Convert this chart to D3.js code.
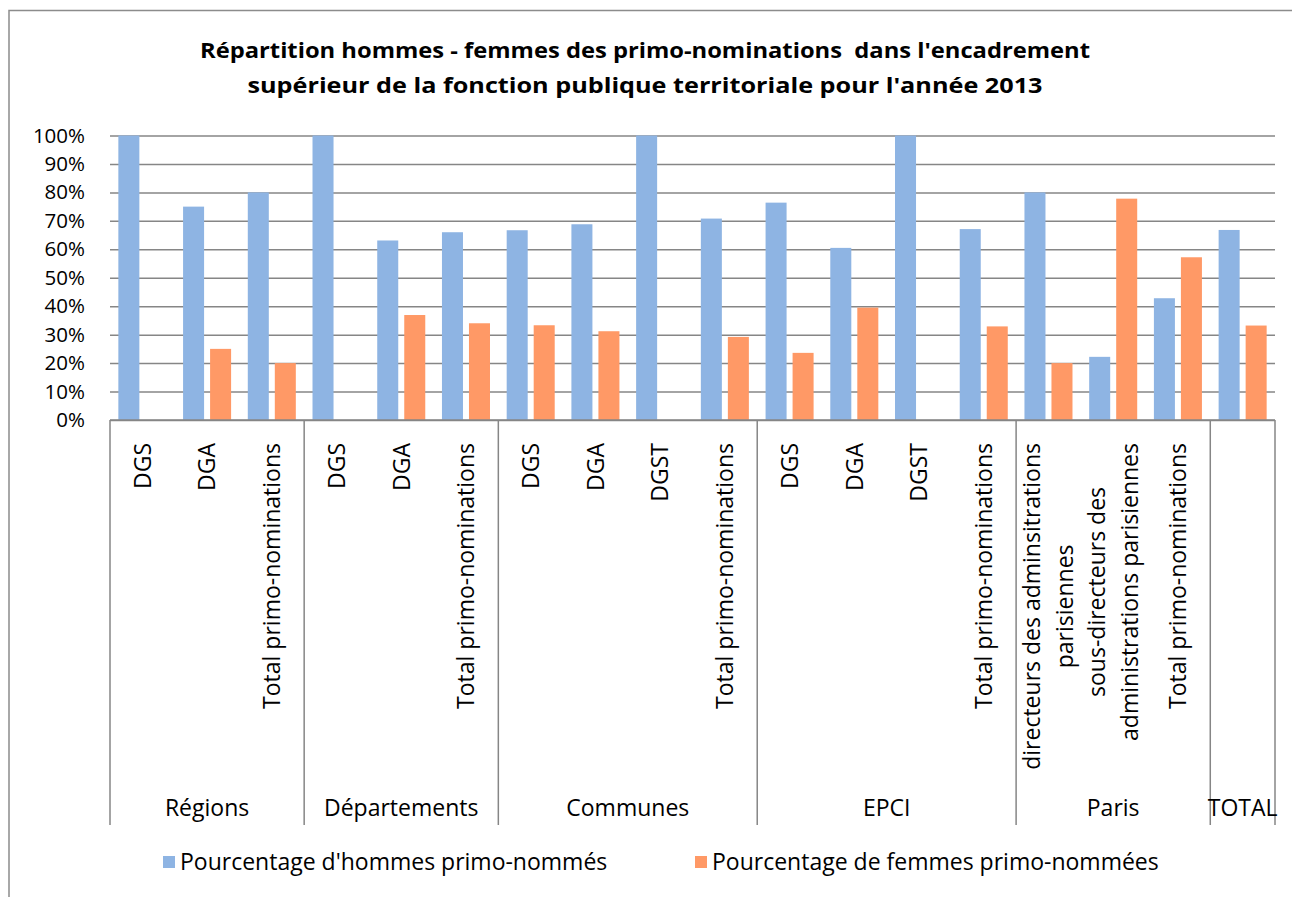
<!DOCTYPE html>
<html>
<head>
<meta charset="utf-8">
<script src="https://cdn.jsdelivr.net/npm/d3@7"></script>
<style>
  body { margin: 0; background: #fff; }
  svg text { font-family: "Open Sans", sans-serif; fill: #000; }
</style>
</head>
<body>
<div id="chart"></div>
<script>
const groups = ["Régions", "Départements", "Communes", "EPCI", "Paris", "TOTAL"];
const categories = [
  "DGS", "DGA", "Total primo-nominations",
  "DGS", "DGA", "Total primo-nominations",
  "DGS", "DGA", "DGST", "Total primo-nominations",
  "DGS", "DGA", "DGST", "Total primo-nominations",
  "directeurs des adminsitrations|parisiennes", "sous-directeurs des|administrations parisiennes", "Total primo-nominations",
  ""
];
const groupOf = [0,0,0, 1,1,1, 2,2,2,2, 3,3,3,3, 4,4,4, 5];
const hommes = [1.00, 0.75, 0.80, 1.00, 0.631, 0.66, 0.667, 0.688, 1.00, 0.708, 0.764, 0.605, 1.00, 0.671, 0.80, 0.222, 0.428, 0.668];
const femmes = [0.00, 0.25, 0.20, 0.00, 0.369, 0.34, 0.333, 0.312, 0.00, 0.292, 0.236, 0.395, 0.00, 0.329, 0.20, 0.778, 0.572, 0.332];
const seriesNames = ["Pourcentage d'hommes primo-nommés", "Pourcentage de femmes primo-nommées"];
const colors = ["#8EB4E3", "#FF9966"];
const yTicks = [0, 0.1, 0.2, 0.3, 0.4, 0.5, 0.6, 0.7, 0.8, 0.9, 1.0];

const w = 1292, h = 897;
const plotLeft = 110, plotRight = 1275, plotTop = 135.5, plotBottom = 420;
const axisBottomY = 825;
const gridColor = "#868686";
const fs = "23px";

const svg = d3.select("#chart").append("svg")
  .attr("width", w)
  .attr("height", h);

// outer frame
svg.append("path")
  .attr("d", `M9,${h} L9,10.5 L${w},10.5`)
  .attr("fill", "none")
  .attr("stroke", "#8c8c8c")
  .attr("stroke-width", 1.5);

// title
const title = svg.append("text")
  .attr("text-anchor", "middle")
  .attr("xml:space", "preserve")
  .style("font-weight", "bold")
  .style("font-size", "22px");
title.append("tspan").attr("x", 645).attr("y", 58)
  .attr("textLength", 890).attr("lengthAdjust", "spacingAndGlyphs")
  .text("Répartition hommes - femmes des primo-nominations  dans l'encadrement");
title.append("tspan").attr("x", 645).attr("y", 93)
  .attr("textLength", 795).attr("lengthAdjust", "spacingAndGlyphs")
  .text("supérieur de la fonction publique territoriale pour l'année 2013");

const x = d3.scaleBand()
  .domain(d3.range(categories.length))
  .range([plotLeft, plotRight]);

const xSub = d3.scaleBand()
  .domain([0, 1])
  .range([0, x.bandwidth()])
  .paddingInner(0.222)
  .paddingOuter(0.309);

const y = d3.scaleLinear()
  .domain([0, 1])
  .range([plotBottom, plotTop]);

// gridlines + y labels
const yAxis = d3.axisLeft(y)
  .tickValues(yTicks)
  .tickSize(-(plotRight - plotLeft))
  .tickPadding(25)
  .tickFormat(d3.format(".0%"));

const gy = svg.append("g")
  .attr("transform", `translate(${plotLeft},0)`)
  .call(yAxis);
gy.select(".domain").remove();
gy.selectAll(".tick line").attr("stroke", gridColor).attr("stroke-width", 1.5);
gy.selectAll(".tick text")
  .style("font-size", "20.5px")
  .style("font-family", "'Open Sans', sans-serif")
  .attr("fill", "#000");

// bars
const seriesData = [hommes, femmes];
seriesData.forEach((vals, s) => {
  svg.append("g")
    .selectAll("rect")
    .data(vals)
    .enter()
    .append("rect")
    .attr("x", (d, i) => x(i) + xSub(s))
    .attr("y", d => y(d))
    .attr("width", xSub.bandwidth())
    .attr("height", d => y(0) - y(d))
    .attr("fill", colors[s]);
});

// category axis baseline
svg.append("line")
  .attr("x1", plotLeft).attr("x2", plotRight)
  .attr("y1", plotBottom).attr("y2", plotBottom)
  .attr("stroke", gridColor).attr("stroke-width", 1.5);

// group separators
const groupStarts = groups.map((g, gi) => groupOf.indexOf(gi));
const boundaries = groupStarts.map(i => x(i)).concat([plotRight]);
svg.append("g")
  .selectAll("line")
  .data(boundaries)
  .enter()
  .append("line")
  .attr("x1", d => d).attr("x2", d => d)
  .attr("y1", plotBottom).attr("y2", axisBottomY)
  .attr("stroke", gridColor)
  .attr("stroke-width", 1.5);

// category labels (rotated)
const labelTop = 443;
const lineH = 33;
const catG = svg.append("g");
categories.forEach((c, i) => {
  if (!c) return;
  const lines = c.split("|");
  const cx = x(i) + x.bandwidth() / 2;
  const t = catG.append("text")
    .style("font-size", fs)
    .attr("transform", `translate(${cx},${labelTop}) rotate(-90)`);
  const n = lines.length;
  lines.forEach((ln, k) => {
    t.append("tspan")
      .attr("x", 0)
      .attr("y", (k - (n - 1) / 2) * lineH)
      .attr("dy", "0.36em")
      .text(ln);
  });
  if (n === 1) {
    t.attr("text-anchor", "end");
  } else {
    const maxLen = d3.max(t.selectAll("tspan").nodes(), nd => nd.getComputedTextLength());
    t.attr("text-anchor", "middle");
    t.selectAll("tspan").attr("x", -maxLen / 2);
  }
});

// group labels
svg.append("g")
  .selectAll("text")
  .data(groups)
  .enter()
  .append("text")
  .attr("x", (d, gi) => (boundaries[gi] + boundaries[gi + 1]) / 2)
  .attr("y", 816)
  .attr("text-anchor", "middle")
  .style("font-size", fs)
  .text(d => d);

// legend
const legendX = [163, 695];
const legend = svg.append("g");
seriesNames.forEach((name, s) => {
  legend.append("rect")
    .attr("x", legendX[s]).attr("y", 856)
    .attr("width", 12).attr("height", 12)
    .attr("fill", colors[s]);
  legend.append("text")
    .attr("x", legendX[s] + 17)
    .attr("y", 870)
    .style("font-size", fs)
    .text(name);
});
</script>
</body>
</html>
